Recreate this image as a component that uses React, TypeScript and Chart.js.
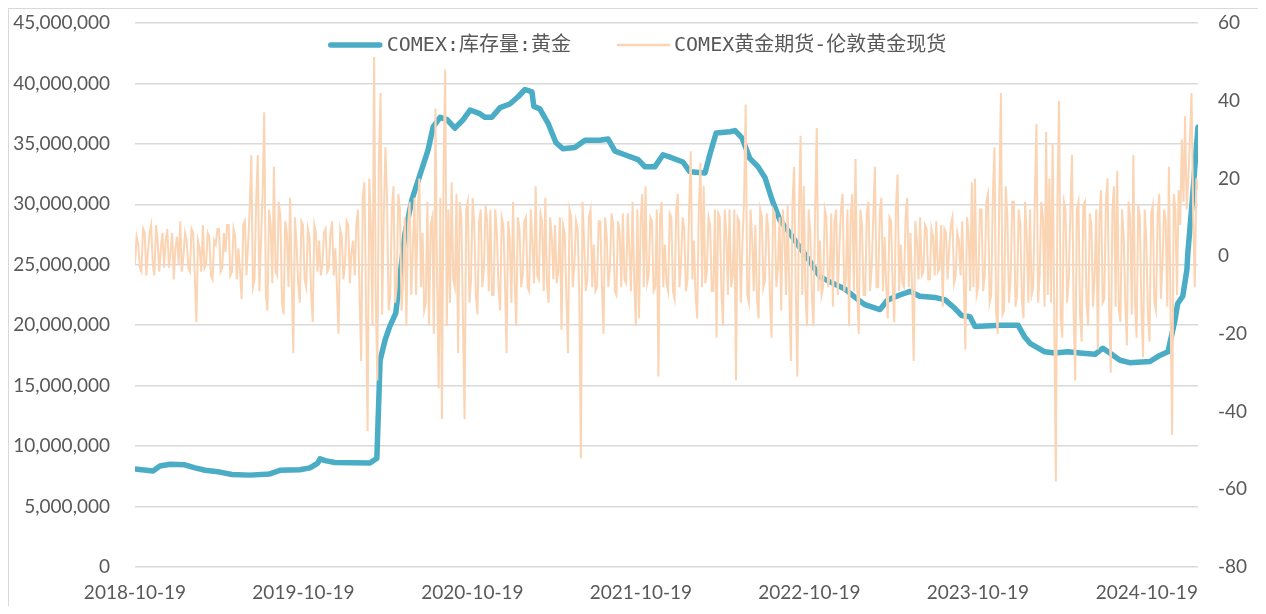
import React, { useEffect, useRef } from "react";
import { Chart, registerables } from "chart.js";

Chart.register(...registerables);

// X axis: days since 2018-10-19
const TICK_DAYS = [0, 365, 731, 1096, 1461, 1826, 2192];
const TICK_LABELS = ["2018-10-19", "2019-10-19", "2020-10-19", "2021-10-19", "2022-10-19", "2023-10-19", "2024-10-19"];
const X_MAX = 2303;

const LEGEND_LABELS = ["COMEX:库存量:黄金", "COMEX黄金期货-伦敦黄金现货"];

// COMEX gold inventory (millions of oz), at day offsets
const STOCK_DAYS = [
  0, 39, 54, 76, 108, 130, 152, 184, 210, 249, 292, 314, 357, 379, 396, 401, 412, 433, 509, 524,
  531, 542, 552, 565, 574, 585, 600, 617, 635, 646, 661, 676, 693, 711, 726, 747, 758, 773, 791, 812,
  830, 845, 860, 864, 877, 895, 912, 927, 953, 975, 1007, 1025, 1040, 1061, 1090, 1105, 1126, 1144, 1159, 1187,
  1202, 1235, 1246, 1259, 1289, 1300, 1315, 1332, 1350, 1365, 1380, 1397, 1419, 1441, 1462, 1484, 1516, 1538, 1560, 1581,
  1614, 1631, 1657, 1679, 1700, 1733, 1755, 1776, 1791, 1809, 1820, 1874, 1913, 1928, 1939, 1971, 1993, 2021, 2047, 2080,
  2097, 2112, 2134, 2155, 2199, 2220, 2238, 2253, 2259, 2270, 2279, 2281, 2290, 2298, 2303
];
const STOCK_VALUES = [
  8.1, 7.95, 8.35, 8.5, 8.45, 8.2, 8.0, 7.85, 7.65, 7.6, 7.7, 8.0, 8.05, 8.2, 8.6, 8.95, 8.8, 8.65, 8.6, 9.0,
  17.1, 18.8, 19.9, 21.0, 24.0, 27.6, 30.4, 32.4, 34.5, 36.4, 37.2, 37.0, 36.3, 37.0, 37.8, 37.5, 37.2, 37.2, 38.0, 38.3,
  38.9, 39.5, 39.3, 38.1, 37.9, 36.7, 35.1, 34.6, 34.7, 35.3, 35.3, 35.4, 34.4, 34.1, 33.7, 33.1, 33.1, 34.1, 33.9, 33.5,
  32.7, 32.6, 34.2, 35.9, 36.0, 36.1, 35.5, 33.8, 33.1, 32.2, 30.4, 28.7, 27.6, 26.4, 25.3, 24.0, 23.4, 23.0, 22.3, 21.7,
  21.3, 22.1, 22.5, 22.8, 22.4, 22.3, 22.1, 21.4, 20.8, 20.7, 19.9, 20.0, 20.0, 19.0, 18.5, 17.8, 17.7, 17.8, 17.7, 17.6,
  18.1, 17.7, 17.1, 16.9, 17.0, 17.5, 17.8, 20.4, 21.8, 22.4, 24.6, 26.0, 30.0, 34.0, 36.4
];

// COMEX gold futures minus London spot (right axis): weekly readings plus mid-week readings
const SPREAD_STEP_DAYS = 7;
const SPREAD_VALUES = [
  -2, 3, -4, 6, 1, 8, -5, 4, 2, -3,
  7, 1, -6, 5, 9, 0, 4, -4, 6, -17,
  2, 8, -2, 5, -6, 3, 7, -3, 1, 8,
  -4, 5, 2, -11, 9, 3, 26, -6, 26, 4,
  37, -14, 8, 23, -5, 10, -15, 6, 15, -25,
  3, -12, 8, -8, 5, -17, 6, 4, -2, 7,
  -3, 9, 2, -20, 5, -2, 8, 1, -5, 12,
  -27, 19, -45, 8, 52, -32, 42, 10, 15, -10,
  18, -8, 12, -6, -18, 14, 2, -10, 20, 6,
  -12, -18, 10, 38, -34, -42, 48, 12, 19, -8,
  -25, 10, -42, 14, -6, 8, -15, 12, -3, 9,
  12, -10, 6, -14, 8, -25, 4, 14, -18, 7,
  -5, 10, -9, 3, 18, -6, 9, 15, -12, 5,
  8, -4, -19, 6, -25, 10, -2, 7, -52, 4,
  -6, 12, 3, -8, 9, -20, 5, -3, 8, -10,
  6, 11, -7, 2, 14, -18, -16, 16, 18, -5,
  9, -8, -31, 14, 3, -9, 10, -11, 16, -2,
  7, -6, 27, 4, -16, 24, 18, -4, 8, -9,
  -21, 10, -18, 6, 12, -5, -32, 9, 3, 39,
  -12, 5, 8, -16, 10, -6, 7, -21, 11, -3,
  -14, 6, 13, -27, 23, -31, 31, 18, -18, 6,
  -18, 33, 4, -8, 10, -5, -13, 12, 2, 16,
  -6, -18, 16, 25, -20, 8, -10, 14, -3, 23,
  -8, 15, 5, -16, 9, -17, 21, 3, -8, 15,
  6, -27, 4, 10, -4, 7, -6, 5, 9, -3,
  -13, 6, 2, 10, -5, 4, 9, -24, 6, 19,
  20, -8, 12, -5, 16, -10, 28, -20, 42, -14,
  10, -6, 14, -10, 8, -16, 5, 12, -8, 34,
  -5, 10, 32, 20, 29, -58, 40, -21, 12, -6,
  26, -32, 14, -22, 14, -18, 8, -5, -24, 17,
  -11, 20, -30, 18, 22, -17, 5, -23, 10, 26,
  -21, 10, -26, 4, -22, 13, -14, 16, -2, 9,
  23, -46, 12, 17, 30, 36, 20, 42, -8, 17
];
const SPREAD_MID_VALUES = [
  5, -3, 7, -5, 6, -2, 8, -4, 6, 4,
  -3, 6, 2, -2, -4, 6, -3, 7, -5, 4,
  -4, -3, 6, -5, 4, 7, -4, 6, 8, -5,
  7, -6, -4, 8, -5, 12, -8, 14, -9, 16,
  -10, 12, -7, -4, 14, -12, 9, -8, -6, 10,
  -7, 9, -6, 7, -9, 8, -4, -5, 6, -4,
  6, -5, -8, 7, -6, 9, -7, 4, 8, -10,
  15, -12, 20, -18, -10, 25, -15, 28, -14, 12,
  -12, 16, -14, 10, 8, -10, 15, 12, -8, -14,
  14, 8, -20, -6, 15, 22, -18, -12, -6, 16,
  14, -16, 12, -12, 15, -10, 9, -8, 13, -9,
  -10, 12, -8, 10, -6, 9, -12, -6, 10, -8,
  9, -8, 12, -7, -5, 11, -9, -7, 10, -6,
  -7, 10, 8, -10, 12, -8, 9, -10, 14, -9,
  10, -8, -9, 9, -7, 10, -8, 11, -9, 9,
  -8, -6, 11, -9, -6, 12, 9, -8, -7, 10,
  -9, 12, 10, -8, -7, 11, -9, 12, -8, 10,
  -9, 12, -6, -10, 12, -8, -7, 10, -9, 12,
  11, -9, 12, -10, -8, 12, 10, -12, 14, -10,
  12, -9, -11, 12, -8, 11, -10, 12, -8, 10,
  12, -10, -9, 14, -8, 12, -10, -9, 12, -10,
  12, -9, -10, 12, -8, 11, 9, -10, 12, -9,
  12, 10, -9, -8, 12, -10, 11, -9, 10, -8,
  11, -9, -8, 10, -8, 12, -9, -7, 10, -8,
  -7, 9, -6, -5, 8, -6, 7, -5, -4, 8,
  7, -6, 8, -7, 6, -5, -6, 10, -9, -8,
  -10, 12, -9, 14, -12, 15, -14, 16, -15, 18,
  -12, 14, -13, 12, -11, 14, -12, -10, 15, -12,
  14, -13, -10, -12, -14, 15, -16, 14, -12, 12,
  -14, 12, -15, 13, -12, 11, -13, 12, 10, -12,
  14, -14, 12, -13, -14, 12, -12, 14, -15, -12,
  13, -14, 12, -15, 11, -12, 10, -11, 12, -13,
  -14, 16, -10, 8, 14, 12, 30, 10, 20, 5
];

const BLUE = "#4BACC6";
const PEACH = "rgb(251,212,180)";
const TEXT = "#595959";
const GRID = "#d9d9d9";
const TICK_FONT = { family: "Lato, 'Open Sans', sans-serif", size: 19 };

const legendPlugin = {
  id: "customLegend",
  afterDraw(chart: any) {
    const ctx = chart.ctx;
    ctx.save();
    ctx.font = '20px "DejaVu Sans Mono", "Noto Sans CJK SC", monospace';
    const w1 = ctx.measureText(LEGEND_LABELS[0]).width;
    const w2 = ctx.measureText(LEGEND_LABELS[1]).width;
    const sw1 = 55, sw2 = 53, g = 4, gap = 46;
    const total = sw1 + g + w1 + gap + sw2 + g + w2;
    const cx = 628;
    const y = 36;
    let x = cx - total / 2;
    ctx.fillStyle = "#ffffff";
    ctx.fillRect(x - 4, y - 12, total + 8, 24);
    ctx.lineCap = "round";
    ctx.strokeStyle = BLUE;
    ctx.lineWidth = 5.5;
    ctx.beginPath();
    ctx.moveTo(x + 3, y);
    ctx.lineTo(x + sw1 - 3, y);
    ctx.stroke();
    x += sw1 + g;
    ctx.fillStyle = TEXT;
    ctx.textBaseline = "middle";
    ctx.textAlign = "left";
    ctx.fillText(LEGEND_LABELS[0], x, y + 1);
    x += w1 + gap;
    ctx.strokeStyle = PEACH;
    ctx.lineWidth = 2.5;
    ctx.lineCap = "butt";
    ctx.beginPath();
    ctx.moveTo(x, y);
    ctx.lineTo(x + sw2, y);
    ctx.stroke();
    x += sw2 + g;
    ctx.fillText(LEGEND_LABELS[1], x, y + 1);
    ctx.restore();
  },
};

export default function App() {
  const ref = useRef<HTMLCanvasElement | null>(null);

  useEffect(() => {
    document.documentElement.style.overflow = "hidden";
    document.body.style.overflow = "hidden";
    if (!ref.current) return;
    const stock = STOCK_DAYS.map((d, i) => ({ x: d, y: STOCK_VALUES[i] * 1e6 }));
    const spread: { x: number; y: number }[] = [];
    SPREAD_VALUES.forEach((v, i) => {
      spread.push({ x: i * SPREAD_STEP_DAYS, y: v });
      spread.push({ x: i * SPREAD_STEP_DAYS + SPREAD_STEP_DAYS / 2, y: SPREAD_MID_VALUES[i] });
    });
    const noPad = (s: any) => {
      s.paddingTop = 0;
      s.paddingBottom = 0;
    };
    const chart = new Chart(ref.current, {
      type: "line",
      data: {
        datasets: [
          {
            label: LEGEND_LABELS[1],
            data: spread,
            yAxisID: "y2",
            borderColor: PEACH,
            borderWidth: 2,
            pointRadius: 0,
            tension: 0,
            order: 0,
          },
          {
            label: LEGEND_LABELS[0],
            data: stock,
            yAxisID: "y",
            borderColor: BLUE,
            borderWidth: 5.5,
            pointRadius: 0,
            tension: 0,
            borderCapStyle: "round",
            borderJoinStyle: "round",
            order: 1,
          },
        ],
      },
      options: {
        animation: false,
        responsive: true,
        maintainAspectRatio: false,
        layout: { padding: { top: 14, left: 0, right: 0, bottom: 0 } },
        plugins: { legend: { display: false }, tooltip: { enabled: false } },
        scales: {
          x: {
            type: "linear",
            min: 0,
            max: X_MAX,
            afterBuildTicks: (s: any) => {
              s.ticks = TICK_DAYS.map((v) => ({ value: v }));
            },
            afterFit: (s: any) => {
              s.height = 39;
            },
            grid: { display: false, drawTicks: false },
            border: { display: false },
            ticks: {
              autoSkip: false,
              maxRotation: 0,
              padding: 14,
              color: TEXT,
              font: TICK_FONT,
              callback: (_v: any, i: number) => TICK_LABELS[i],
            },
          },
          y: {
            position: "left",
            min: 0,
            max: 45000000,
            afterFit: (s: any) => {
              s.width = 126;
              noPad(s);
            },
            grid: { color: GRID, lineWidth: 1.5, drawTicks: false },
            border: { display: false },
            ticks: {
              stepSize: 5000000,
              padding: 25,
              color: TEXT,
              font: TICK_FONT,
              callback: (v: any) => Number(v).toLocaleString("en-US"),
            },
          },
          y2: {
            position: "right",
            min: -80,
            max: 60,
            afterFit: (s: any) => {
              s.width = 66;
              noPad(s);
            },
            grid: { display: false, drawTicks: false },
            border: { display: false },
            ticks: {
              stepSize: 20,
              padding: 20,
              color: TEXT,
              font: TICK_FONT,
            },
          },
        },
      },
      plugins: [legendPlugin],
    });
    return () => chart.destroy();
  }, []);

  return (
    <div
      style={{
        width: 1255,
        height: 597,
        borderTop: "1px solid #d9d9d9",
        borderLeft: "1px solid #d9d9d9",
        borderRight: "1px solid #d9d9d9",
        position: "relative",
        background: "#fff",
      }}
    >
      <canvas ref={ref} />
    </div>
  );
}
